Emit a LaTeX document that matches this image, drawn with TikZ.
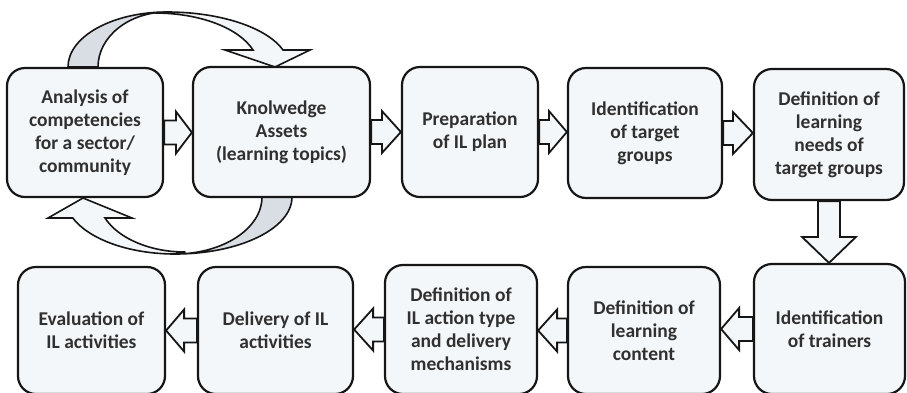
\documentclass[tikz,border=0pt]{standalone}
\usepackage{fontspec}
\setmainfont{Carlito}
\usetikzlibrary{calc}

\definecolor{boxfill}{RGB}{244,247,249}
\definecolor{backfill}{RGB}{216,222,227}
\definecolor{inkline}{RGB}{22,22,22}
\definecolor{inktext}{RGB}{48,48,48}

\tikzset{
  stage/.style={draw=inkline, line width=2.2pt, fill=boxfill, rounded corners=18pt,
    align=center, inner sep=0pt, text=inktext,
    font=\bfseries\fontsize{19.5}{23}\selectfont},
  blockarrow/.style={draw=inkline, line width=1.8pt, fill=boxfill, line join=miter},
  loopback/.style={draw=inkline, line width=1.6pt, fill=backfill},
  loopfront/.style={draw=inkline, line width=1.6pt, fill=boxfill, line join=miter},
}

% block arrow pointing right, from the east side of #1 to the west side of #2
\newcommand\stagearrowright[3]{%
  \draw[blockarrow] let \p1=(#1.east), \p2=(#2.west) in
    (\x1,\y1+12pt) -- (\x2-#3,\y1+12pt) -- (\x2-#3,\y1+21pt) -- (\x2,\y1)
    -- (\x2-#3,\y1-21pt) -- (\x2-#3,\y1-12pt) -- (\x1,\y1-12pt) -- cycle;}
% block arrow pointing left, from the west side of #1 to the east side of #2
\newcommand\stagearrowleft[3]{%
  \draw[blockarrow] let \p1=(#1.west), \p2=(#2.east) in
    (\x1,\y1+12pt) -- (\x2+#3,\y1+12pt) -- (\x2+#3,\y1+21pt) -- (\x2,\y1)
    -- (\x2+#3,\y1-21pt) -- (\x2+#3,\y1-12pt) -- (\x1,\y1-12pt) -- cycle;}
% block arrow pointing down, from the south side of #1 to the north side of #2
\newcommand\stagearrowdown[2]{%
  \draw[blockarrow] let \p1=(#1.south), \p2=(#2.north) in
    (\x1-11pt,\y1) -- (\x1-11pt,\y2+26pt) -- (\x1-27pt,\y2+26pt) -- (\x1,\y2)
    -- (\x1+27pt,\y2+26pt) -- (\x1+11pt,\y2+26pt) -- (\x1+11pt,\y1) -- cycle;}

\begin{document}
\begin{tikzpicture}[x=1pt, y=1pt]
\useasboundingbox (0,0) rectangle (907,-392);
\fill[white] (0,0) rectangle (907,-392);

% loop between the first two stages: over the top
\filldraw[loopback] (68,-67) arc[start angle=180, end angle=90, x radius=99, y radius=55]
  arc[start angle=90, end angle=180, x radius=69, y radius=55] -- cycle;
\filldraw[loopfront] (167,-12) arc[start angle=90, end angle=18, x radius=122, y radius=55]
  -- (310,-50) -- (275,-67) -- (225,-50) -- (253,-50)
  arc[start angle=18.4, end angle=90, x radius=103, y radius=54] -- cycle;

% loop between the first two stages: underneath
\filldraw[loopback] (292,-197) arc[start angle=0, end angle=-90, x radius=117, y radius=57]
  arc[start angle=-90, end angle=0, x radius=87, y radius=57] -- cycle;
\filldraw[loopfront] (175,-254) arc[start angle=270, end angle=201.6, x radius=110, y radius=57]
  -- (48,-218) -- (83,-198) -- (132,-218) -- (105,-218)
  arc[start angle=202.4, end angle=270, x radius=87, y radius=55] -- cycle;

% top row
\node[stage, minimum width=156pt, minimum height=129pt] (s1) at (85,-132.5)
  {Analysis of\\competencies\\for a sector/\\community};
\node[stage, minimum width=177pt, minimum height=130pt] (s2) at (281.5,-132)
  {Knolwedge\\Assets\\(learning topics)};
\node[stage, minimum width=136pt, minimum height=130pt] (s3) at (470,-132)
  {Preparation\\of IL plan};
\node[stage, minimum width=154pt, minimum height=130pt] (s4) at (645,-133)
  {Identification\\of target\\groups};
\node[stage, minimum width=150pt, minimum height=131pt] (s5) at (829,-134.5)
  {Definition of\\learning\\needs of\\target groups};

% bottom row (runs off the lower edge)
\node[stage, minimum width=151pt, minimum height=130pt] (s6) at (829.5,-329)
  {Identification\\of trainers};
\node[stage, minimum width=152pt, minimum height=127pt] (s7) at (644,-330.5)
  {Definition of\\learning\\content};
\node[stage, minimum width=152pt, minimum height=129pt] (s8) at (461,-329.5)
  {Definition of\\IL action type\\and delivery\\mechanisms};
\node[stage, minimum width=155pt, minimum height=127pt] (s9) at (275.5,-330.5)
  {Delivery of IL\\activities};
\node[stage, minimum width=147pt, minimum height=127pt] (s10) at (91.5,-330.5)
  {Evaluation of\\IL activities};

% connectors
\stagearrowright{s1}{s2}{16pt}
\stagearrowright{s2}{s3}{19pt}
\stagearrowright{s3}{s4}{18pt}
\stagearrowright{s4}{s5}{20pt}
\stagearrowdown{s5}{s6}
\stagearrowleft{s6}{s7}{18pt}
\stagearrowleft{s7}{s8}{19pt}
\stagearrowleft{s8}{s9}{19pt}
\stagearrowleft{s9}{s10}{18pt}
\end{tikzpicture}
\end{document}
